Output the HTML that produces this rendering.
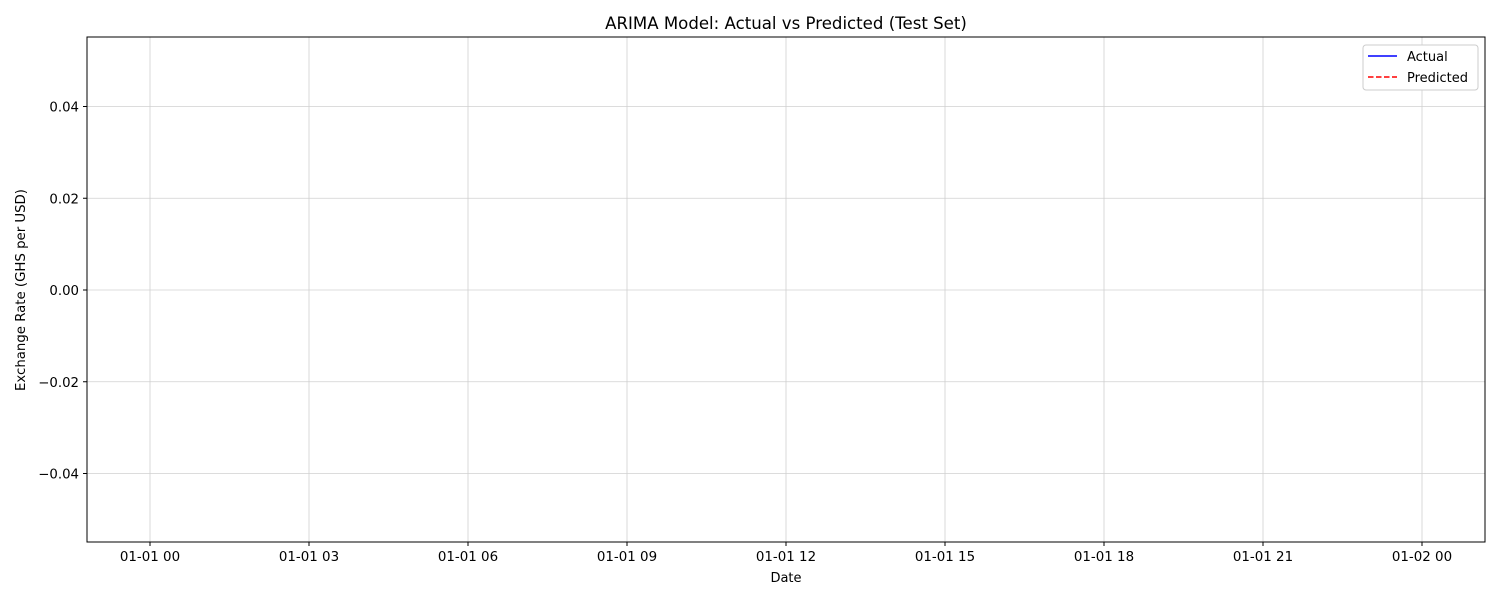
<!DOCTYPE html>
<html><head><meta charset="utf-8"><style>
body{margin:0;background:#fff;}
svg text{font-family:"DejaVu Sans","Liberation Sans",sans-serif;fill:#000;}
</style></head><body>
<svg id="chart" width="1500" height="600">
<rect x="0" y="0" width="1500" height="600" fill="#fff"/>
<text x="786" y="29" font-size="16.6" text-anchor="middle">ARIMA Model: Actual vs Predicted (Test Set)</text>
<g id="grid"></g><g id="ticks"></g>
<rect x="87" y="37" width="1398" height="505" fill="none" stroke="#000" stroke-width="1"/>
<text x="786" y="582" font-size="13" text-anchor="middle">Date</text>
<text transform="translate(25,290) rotate(-90)" font-size="13.3" text-anchor="middle">Exchange Rate (GHS per USD)</text>
<g>
<rect x="1363" y="45" width="115" height="45" rx="3" fill="#fff" stroke="#ccc"/>
<line x1="1368" y1="56" x2="1397" y2="56" stroke="#0000ff" stroke-width="1.5"/>
<text x="1407" y="61" font-size="13">Actual</text>
<line x1="1368" y1="77" x2="1397" y2="77" stroke="#ff0000" stroke-width="1.5" stroke-dasharray="5.5,2.5"/>
<text x="1407" y="82" font-size="13">Predicted</text>
</g>
</svg>
<script>
const yTicks=[0.04,0.02,0.00,-0.02,-0.04];
const yLabels=["0.04","0.02","0.00","\u22120.02","\u22120.04"];
const xHours=[0,3,6,9,12,15,18,21,24];
const xLabels=["01-01 00","01-01 03","01-01 06","01-01 09","01-01 12","01-01 15","01-01 18","01-01 21","01-02 00"];
const actual=[];const predicted=[];
const NS="http://www.w3.org/2000/svg";
const y=v=>290-v*(91.75/0.02);
const x=h=>150+h*(1272/24);
const grid=document.getElementById('grid'),ticks=document.getElementById('ticks');
function mk(t,a,p){const e=document.createElementNS(NS,t);for(const k in a)e.setAttribute(k,a[k]);p.appendChild(e);return e;}
yTicks.forEach((v,i)=>{
 const g=mk('line',{x1:87,x2:1485,y1:y(v),y2:y(v),stroke:'#d0d0d0','stroke-width':0.8},grid);
 
 
 mk('line',{x1:83,x2:87,y1:y(v),y2:y(v),stroke:'#000'},ticks);
 const t=mk('text',{x:79,y:y(v)+5,'font-size':13.3,'text-anchor':'end'},ticks);t.textContent=yLabels[i];
 
 
});
xHours.forEach((h,i)=>{
 const g=mk('line',{x1:x(h),x2:x(h),y1:37,y2:542,stroke:'#d0d0d0','stroke-width':0.8},grid);
 
 
 mk('line',{x1:x(h),x2:x(h),y1:542,y2:546,stroke:'#000'},ticks);
 const t=mk('text',{x:x(h),y:561,'font-size':13.4,'text-anchor':'middle'},ticks);t.textContent=xLabels[i];
 
 
});
</script>
</body></html>
